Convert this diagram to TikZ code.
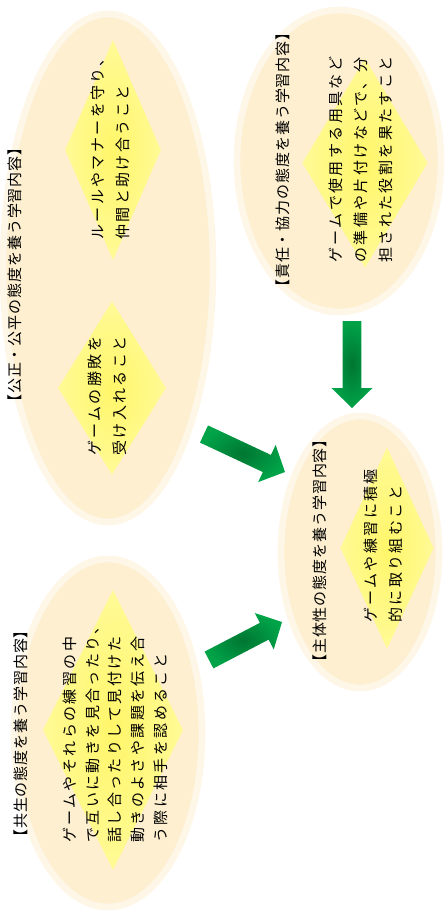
\documentclass[tikz,border=0pt]{standalone}
\usepackage{fontspec}
\newfontfamily\jp[LetterSpace=16]{Noto Sans CJK JP}
\newfontfamily\jph[LetterSpace=6]{Noto Sans CJK JP}
\usetikzlibrary{calc,shapes.geometric}
\definecolor{cream}{RGB}{253,239,207}
\definecolor{creamedge}{RGB}{254,247,232}
\definecolor{dyel}{RGB}{255,246,105}
\definecolor{lyel}{RGB}{255,250,150}
\definecolor{agreen}{RGB}{0,163,72}
\definecolor{dgreen}{RGB}{0,118,50}
\newcommand\blockarrow[2]{%
  \coordinate (#1b) at ($(#2)!15pt!(#1)$);
  \shade[arr] ($(#1)!7.1pt!90:(#2)$) -- ($(#1)!7.1pt!-90:(#2)$)
    -- ($(#1b)!7.1pt!-90:(#2)$) -- ($(#1b)!15.4pt!-90:(#2)$) -- (#2)
    -- ($(#1b)!15.4pt!90:(#2)$) -- ($(#1b)!7.1pt!90:(#2)$) -- cycle;}
\begin{document}
\begin{tikzpicture}[x=0.75pt,y=-0.75pt,
  blob/.style={ellipse, inner sep=0pt, fill=cream, draw=creamedge, line width=5pt},
  gem/.style={diamond, inner sep=0pt, inner color=dyel, outer color=lyel},
  hd/.style={rotate=90, anchor=west, inner sep=0pt, font=\jph\fontsize{11.25}{14}\selectfont},
  bd/.style={rotate=90, anchor=west, inner sep=0pt, align=left, font=\jp\fontsize{11.25}{18.75}\selectfont},
  arr/.style={inner color=dgreen, outer color=agreen}]
\useasboundingbox (0,0) rectangle (446,916);
% ellipses
\node[blob, minimum width=157.5pt, minimum height=381pt] (e1) at (108,268) {};
\node[blob, minimum width=141pt, minimum height=261pt] (e2) at (108,733) {};
\node[blob, minimum width=153pt, minimum height=226.5pt] (e3) at (339,161) {};
\node[blob, minimum width=118.5pt, minimum height=204pt] (e4) at (360,552) {};
% diamonds
\node[gem, minimum width=72pt, minimum height=165pt] (d1) at (113,150) {};
\node[gem, minimum width=81pt, minimum height=130pt] (d2) at (112,388) {};
\node[gem, minimum width=94pt, minimum height=157pt] (d3) at (365,163) {};
\node[gem, minimum width=70pt, minimum height=151pt] (d4) at (387,548) {};
\node[gem, minimum width=105pt, minimum height=210pt] (d5) at (113,730) {};
% arrows
\coordinate (t1) at (352,321); \coordinate (h1) at (352,408);
\coordinate (t2) at (204,434); \coordinate (h2) at (285,472);
\coordinate (t3) at (209,660); \coordinate (h3) at (282,622);
\blockarrow{t1}{h1}
\blockarrow{t2}{h2}
\blockarrow{t3}{h3}
% headers
\node[hd] (h1t) at (15,410) {【公正・公平の態度を養う学習内容】};
\node[hd] (h2t) at (21,845) {【共生の態度を養う学習内容】};
\node[hd] (h3t) at (283,295) {【責任・協力の態度を養う学習内容】};
\node[hd] (h4t) at (320,670) {【主体性の態度を養う学習内容】};
% bodies
\node[bd] (b1) at (110.5,240) {ルールやマナーを守り、\\仲間と助け合うこと};
\node[bd] (b2) at (107.5,456) {ゲームの勝敗を\\受け入れること};
\node[bd] (b3) at (361,263) {ゲームで使用する用具など\\の準備や片付けなどで、分\\担された役割を果たすこと};
\node[bd] (b4) at (383.5,623) {ゲームや練習に積極\\的に取り組むこと};
\node[bd, font=\jp\fontsize{11.25}{17}\selectfont] (b5) at (115,843) {ゲームやそれらの練習の中\\で互いに動きを見合ったり、\\話し合ったりして見付けた\\動きのよさや課題を伝え合\\う際に相手を認めること};
\end{tikzpicture}
\end{document}
